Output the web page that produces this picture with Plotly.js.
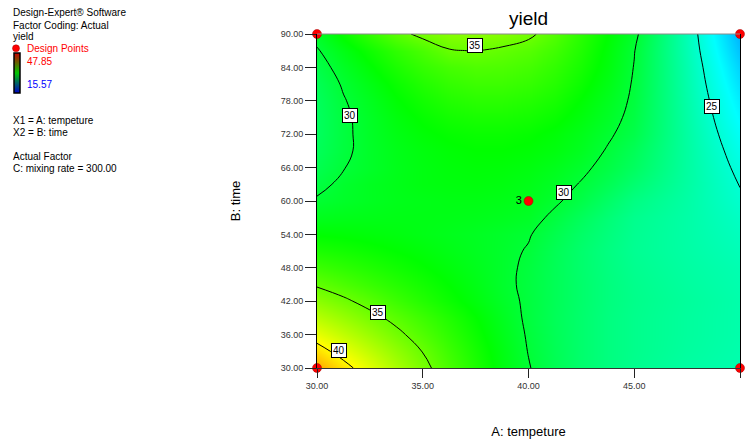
<!DOCTYPE html>
<html>
<head>
<meta charset="utf-8">
<script src="https://cdn.plot.ly/plotly-3.0.1.min.js"></script>
<style>
  html, body { margin: 0; padding: 0; background: #fff; }
  #chart { width: 749px; height: 444px; }
</style>
</head>
<body>
<div id="chart"></div>
<script>
// Factor levels of the response surface grid
const tempA = [30, 31.25, 32.5, 33.75, 35, 36.25, 37.5, 38.75, 40, 41.25, 42.5, 43.75, 45, 47.5, 50];
const timeB = [30, 33, 36, 39, 42, 45, 48, 51, 54, 57, 60, 63, 66, 69, 72, 75, 78, 81, 84, 87, 90];

// Predicted yield, one row per time level (columns follow tempA)
const yieldB30 = [42.64, 40.69, 38.85, 37.12, 35.5, 33.98, 32.58, 31.27, 30.09, 29.1, 28.3, 27.7, 27.25, 26.6, 26.2];
const yieldB33 = [40.81, 39.2, 37.7, 36.3, 34.95, 33.6, 32.35, 31.15, 29.95, 29.05, 28.3, 27.7, 27.3, 26.7, 26.25];
const yieldB36 = [39.12, 37.85, 36.6, 35.4, 34.25, 33.15, 32.05, 30.95, 29.85, 29.0, 28.3, 27.7, 27.3, 26.75, 26.3];
const yieldB39 = [37.56, 36.55, 35.5, 34.55, 33.6, 32.7, 31.75, 30.75, 29.75, 28.95, 28.3, 27.7, 27.3, 26.75, 26.3];
const yieldB42 = [36.11, 35.3, 34.45, 33.6, 32.8, 32.05, 31.3, 30.5, 29.75, 29.0, 28.35, 27.75, 27.35, 26.8, 26.3];
const yieldB45 = [34.8, 34.15, 33.5, 32.9, 32.3, 31.7, 31.05, 30.35, 29.7, 29.0, 28.35, 27.75, 27.3, 26.7, 26.2];
const yieldB48 = [33.61, 33.15, 32.7, 32.25, 31.8, 31.35, 30.85, 30.35, 29.75, 29.0, 28.3, 27.7, 27.2, 26.6, 26.1];
const yieldB51 = [32.56, 32.3, 32.0, 31.7, 31.4, 31.05, 30.7, 30.35, 29.9, 29.05, 28.3, 27.65, 27.1, 26.5, 25.9];
const yieldB54 = [31.64, 31.55, 31.4, 31.25, 31.05, 30.85, 30.65, 30.4, 30.1, 29.3, 28.5, 27.8, 27.15, 26.45, 25.7];
const yieldB57 = [30.83, 30.95, 31.0, 31.05, 31.05, 31.0, 30.9, 30.75, 30.5, 29.7, 28.85, 28.0, 27.25, 26.45, 25.5];
const yieldB60 = [30.16, 30.45, 30.7, 30.9, 31.0, 31.1, 31.1, 31.0, 30.8, 30.2, 29.45, 28.5, 27.6, 26.5, 25.2];
const yieldB63 = [29.61, 30.3, 30.7, 30.95, 31.2, 31.3, 31.35, 31.25, 31.0, 30.55, 29.9, 29.1, 28.2, 26.6, 24.95];
const yieldB66 = [29.2, 29.95, 30.45, 30.9, 31.2, 31.4, 31.5, 31.45, 31.25, 30.85, 30.3, 29.55, 28.7, 26.65, 24.65];
const yieldB69 = [28.92, 29.75, 30.45, 30.95, 31.3, 31.55, 31.7, 31.7, 31.55, 31.25, 30.7, 29.88, 29.0, 26.65, 24.3];
const yieldB72 = [28.75, 29.72, 30.5, 31.1, 31.55, 31.85, 32.0, 32.0, 31.85, 31.5, 30.95, 30.2, 29.4, 26.6, 23.9];
const yieldB75 = [28.72, 29.75, 30.55, 31.3, 31.85, 32.25, 32.45, 32.45, 32.3, 31.95, 31.3, 30.5, 29.6, 26.5, 23.5];
const yieldB78 = [28.81, 29.9, 30.75, 31.6, 32.25, 32.75, 33.0, 33.0, 32.8, 32.4, 31.65, 30.75, 29.75, 26.4, 23.1];
const yieldB81 = [29.04, 30.15, 31.1, 32.0, 32.75, 33.3, 33.6, 33.6, 33.35, 32.85, 32.05, 31.05, 29.85, 26.3, 22.65];
const yieldB84 = [29.4, 30.55, 31.6, 32.55, 33.35, 33.9, 34.2, 34.15, 33.85, 33.25, 32.4, 31.3, 29.95, 26.2, 22.2];
const yieldB87 = [29.87, 31.05, 32.15, 33.15, 34.0, 34.9, 35.05, 34.75, 34.4, 33.7, 32.7, 31.45, 30.05, 26.05, 21.7];
const yieldB90 = [30.48, 31.95, 33.3, 34.5, 35.4, 35.9, 36.05, 35.85, 35.3, 34.3, 33.0, 31.7, 30.35, 25.95, 21.2];

// Observed response range (colour scale limits)
const yieldRange = [15.57, 47.85];

// Design points (corners and the replicated centre point)
const designA = [30, 50, 30, 50, 40];
const designB = [30, 30, 90, 90, 60];
const designRuns = ['', '', '', '', '3'];

// Contour levels and where their value boxes sit
const contourLevels = { start: 25, end: 40, size: 5 };
const contourLabels = [
  { level: 30, a: 31.56, b: 75.3 },
  { level: 35, a: 37.45, b: 88.0 },
  { level: 30, a: 41.7,  b: 61.6 },
  { level: 25, a: 48.68, b: 76.9 },
  { level: 35, a: 32.89, b: 40.0 },
  { level: 40, a: 31.05, b: 33.2 }
];

// Axis ticks
const tempTicks = [30, 35, 40, 45, 50];
const timeTicks = [30, 36, 42, 48, 54, 60, 66, 72, 78, 84, 90];

const yieldZ = [yieldB30, yieldB33, yieldB36, yieldB39, yieldB42, yieldB45, yieldB48,
                yieldB51, yieldB54, yieldB57, yieldB60, yieldB63, yieldB66, yieldB69,
                yieldB72, yieldB75, yieldB78, yieldB81, yieldB84, yieldB87, yieldB90];

const surfaceScale = [
  [0, 'rgb(0,0,255)'], [0.25, 'rgb(0,255,255)'], [0.5, 'rgb(0,255,0)'],
  [0.75, 'rgb(255,255,0)'], [1, 'rgb(255,0,0)']
];
const legendScale = [[0, 'rgb(0,0,200)'], [0.5, 'rgb(0,200,0)'], [1, 'rgb(200,0,0)']];

const W = 749, H = 444;
const M = { l: 317, r: 9, t: 34, b: 76 };
const PW = W - M.l - M.r, PH = H - M.t - M.b;
// page pixel -> paper fraction
const px = x => (x - M.l) / PW;
const py = y => (H - M.b - y) / PH;

const FONT = 'Liberation Sans, Arial, Helvetica, sans-serif';

const surface = {
  type: 'contour',
  x: tempA, y: timeB, z: yieldZ,
  zauto: false, zmin: yieldRange[0], zmax: yieldRange[1],
  colorscale: surfaceScale,
  autocontour: false,
  contours: { start: contourLevels.start, end: contourLevels.end, size: contourLevels.size,
              coloring: 'heatmap', showlabels: false },
  line: { color: '#000', width: 1, smoothing: 1.3 },
  showscale: false,
  hoverinfo: 'skip'
};

// Gradient key of the response range (kept outside the visible axis range)
const legendKey = {
  type: 'heatmap', x: [1000, 1001], y: [1000], z: [yieldRange],
  zauto: false, zmin: yieldRange[0], zmax: yieldRange[1],
  colorscale: legendScale, showscale: true, hoverinfo: 'skip',
  colorbar: {
    xref: 'paper', yref: 'paper',
    x: px(14), xanchor: 'left', y: py(53), yanchor: 'top',
    len: 40 / PH, lenmode: 'fraction', thickness: 6, thicknessmode: 'pixels',
    xpad: 0, ypad: 0, outlinewidth: 1.5, outlinecolor: '#000',
    showticklabels: false, ticks: '', borderwidth: 0,
    title: { text: '' }
  }
};

const points = {
  type: 'scatter', x: designA, y: designB, text: designRuns,
  mode: 'markers+text', textposition: 'middle left',
  textfont: { family: FONT, size: 11, color: '#000' },
  marker: { size: 9, color: '#ff0000', line: { color: '#a00000', width: 0.5 } },
  cliponaxis: false, showlegend: false, hoverinfo: 'skip'
};

const note = (text, x, y, color) => ({
  text, xref: 'paper', yref: 'paper', x: px(x), y: py(y),
  xanchor: 'left', yanchor: 'middle', showarrow: false,
  font: { family: FONT, size: 10, color: color || '#000' }
});

const annotations = [
  note('Design-Expert® Software', 11, 12.5),
  note('Factor Coding: Actual', 11, 25),
  note('yield', 11, 36.5),
  note('Design Points', 25, 48, '#ff0000'),
  note(yieldRange[1].toFixed(2), 25, 61, '#ff0000'),
  note(yieldRange[0].toFixed(2), 25, 84.3, '#0000ff'),
  note('X1 = A: tempeture', 11, 120),
  note('X2 = B: time', 11, 132.3),
  note('Actual Factor', 11, 156),
  note('C: mixing rate = 300.00', 11, 168.3)
].concat(contourLabels.map(l => ({
  text: String(l.level), x: l.a, y: l.b, xref: 'x', yref: 'y',
  showarrow: false, bgcolor: '#fff', bordercolor: '#000', borderwidth: 1, borderpad: 1,
  font: { family: FONT, size: 10, color: '#000' }
})));

const shapes = [
  // top frame edge
  { type: 'line', xref: 'paper', yref: 'paper', x0: 0, x1: 1, y0: 1, y1: 1,
    line: { color: '#8a8a8a', width: 1 } },
  // legend marker for design points
  { type: 'circle', xref: 'paper', yref: 'paper', xsizemode: 'pixel', ysizemode: 'pixel',
    xanchor: px(16), yanchor: py(48.3), x0: -3.5, x1: 3.5, y0: -3.5, y1: 3.5,
    fillcolor: '#ff0000', line: { color: '#a00000', width: 0.5 } }
];

const layout = {
  width: W, height: H,
  margin: M,
  paper_bgcolor: '#fff', plot_bgcolor: '#fff',
  font: { family: FONT, color: '#000' },
  showlegend: false,
  title: { text: 'yield', font: { family: FONT, size: 19, color: '#000' },
           x: 0.5, xref: 'paper', xanchor: 'center', y: 1 - 18.3 / H, yref: 'container', yanchor: 'middle' },
  xaxis: {
    range: [tempA[0], tempA[tempA.length - 1]], tickvals: tempTicks, tickformat: '.2f',
    ticks: 'outside', ticklen: 9, tickwidth: 1, tickcolor: '#222',
    showline: true, linecolor: '#333', linewidth: 1, mirror: false,
    showgrid: false, zeroline: false,
    tickfont: { family: FONT, size: 9, color: '#333' },
    title: { text: 'A: tempeture', font: { family: FONT, size: 13, color: '#000' }, standoff: 37 }
  },
  yaxis: {
    range: [timeB[0], timeB[timeB.length - 1]], tickvals: timeTicks, tickformat: '.2f',
    ticks: 'outside', ticklen: 11, tickwidth: 1, tickcolor: '#222',
    showline: true, linecolor: '#000', linewidth: 1, mirror: true,
    showgrid: false, zeroline: false,
    tickfont: { family: FONT, size: 9, color: '#333' },
    title: { text: 'B: time', font: { family: FONT, size: 13, color: '#000' }, standoff: 37 }
  },
  annotations, shapes
};

Plotly.newPlot('chart', [surface, legendKey, points], layout, { displayModeBar: false, staticPlot: true });
</script>
</body>
</html>
